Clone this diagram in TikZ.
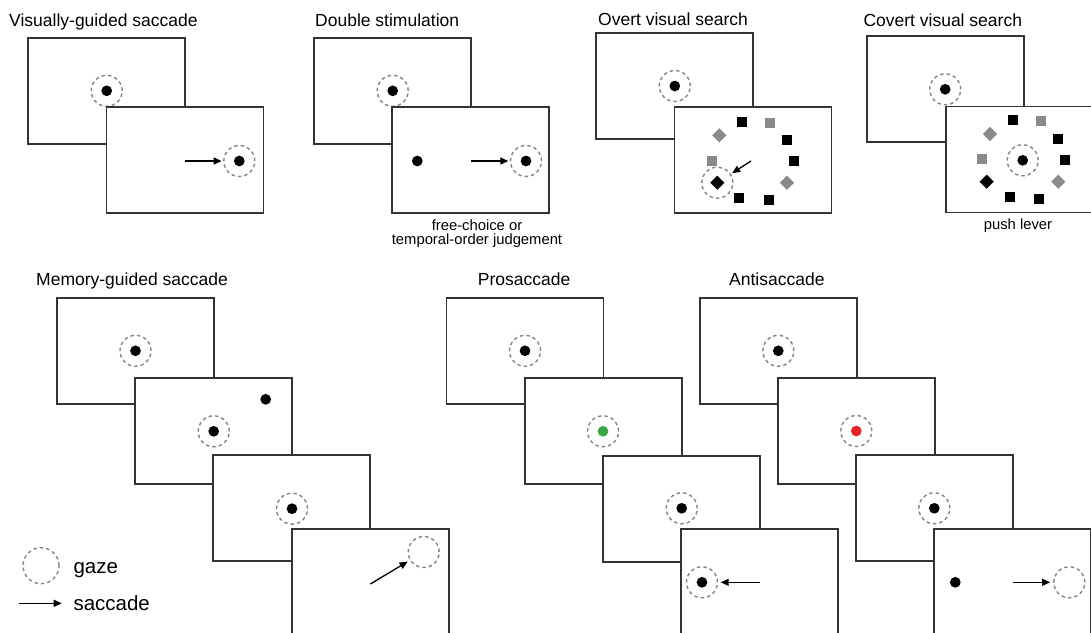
\documentclass[tikz,border=0pt]{standalone}
\usepackage{fontspec}
\setmainfont{Liberation Sans}
\usetikzlibrary{arrows.meta}
\definecolor{framec}{HTML}{333333}
\definecolor{gazec}{HTML}{858585}
\definecolor{itemgray}{HTML}{8A8A8A}
\definecolor{gogreen}{HTML}{3BA549}
\definecolor{nogored}{HTML}{E42228}
\begin{document}
\begin{tikzpicture}[x=1pt,y=-1pt,
 screen/.style={draw=framec,line width=1.7pt,fill=white,rectangle,minimum width=157pt,minimum height=106pt,inner sep=0pt},
 gaze/.style={draw=gazec,line width=1.4pt,dash pattern=on 3.5pt off 3pt,circle,minimum size=31pt,inner sep=0pt},
 biggaze/.style={gaze,minimum size=36pt},
 fixdot/.style={circle,fill=black,minimum size=10.7pt,inner sep=0pt},
 sqitem/.style={rectangle,fill=#1,minimum size=10pt,inner sep=0pt},
 diaitem/.style={rectangle,fill=#1,minimum size=10pt,inner sep=0pt,rotate=45},
 sacc/.style={line width=1.3pt,-{Triangle[length=8pt,width=7pt]},shorten >=1.5pt},
 ttl/.style={anchor=base west,font=\fontsize{17.5}{20}\selectfont,inner sep=0pt},
 captext/.style={anchor=base,font=\fontsize{14.8}{17}\selectfont,inner sep=0pt},
 legtext/.style={anchor=base west,font=\fontsize{20.5}{24}\selectfont,inner sep=0pt}]
\useasboundingbox (0,0) rectangle (1091,632);
\fill[white] (0,0) rectangle (1091,632);
\clip (0,0) rectangle (1091,632);

% ---------- Visually-guided saccade
\node[ttl] (tv) at (9,26) {Visually-guided saccade};
\node[screen] (v1) at (106.7,90.8) {};
\node[fixdot] (v1d) at (v1.center) {};
\node[gaze] (v1g) at (v1.center) {};
\node[screen] (v2) at (185,160.3) {};
\node[fixdot] (v2d) at (239.3,161) {};
\node[gaze] (v2g) at (239.3,161) {};
\coordinate (v2s) at (185,161);
\draw[sacc] (v2s) -- (v2g);

% ---------- Double stimulation
\node[ttl] (td) at (315,26) {Double stimulation};
\node[screen] (d1) at (392.7,90.8) {};
\node[fixdot] (d1d) at (d1.center) {};
\node[gaze] (d1g) at (d1.center) {};
\node[screen] (d2) at (470.8,160.3) {};
\node[fixdot] (d2a) at (417.3,161) {};
\node[fixdot] (d2b) at (526,161) {};
\node[gaze] (d2g) at (526,161) {};
\coordinate (d2s) at (471,161);
\draw[sacc] (d2s) -- (d2g);
\node[captext] (dc1) at (477,230) {free-choice or};
\node[captext] (dc2) at (477,244.5) {temporal-order judgement};

% ---------- Overt visual search
\node[ttl] (to) at (598,25.5) {Overt visual search};
\node[screen] (o1) at (674.8,86) {};
\node[fixdot] (o1d) at (o1.center) {};
\node[gaze] (o1g) at (o1.center) {};
\node[screen] (o2) at (753,160.3) {};
\node[sqitem=black] (oi1) at (742.3,121.7) {};
\node[sqitem=itemgray] (oi2) at (770.3,122.7) {};
\node[sqitem=black] (oi3) at (787.3,140.3) {};
\node[sqitem=black] (oi4) at (794.3,161.3) {};
\node[diaitem=itemgray] (oi5) at (787,182.7) {};
\node[sqitem=black] (oi6) at (768.7,200) {};
\node[sqitem=black] (oi7) at (738.7,197.7) {};
\node[diaitem=black] (oi8) at (717.3,182.7) {};
\node[sqitem=itemgray] (oi9) at (711.7,160.7) {};
\node[diaitem=itemgray] (oi10) at (719.3,135.3) {};
\node[gaze] (o2g) at (717.3,182.7) {};
\coordinate (o2s) at (751,161);
\draw[sacc] (o2s) -- (o2g);

% ---------- Covert visual search
\node[ttl] (tc) at (863.3,26) {Covert visual search};
\node[screen] (c1) at (945.2,89.3) {};
\node[fixdot] (c1d) at (c1.center) {};
\node[gaze] (c1g) at (c1.center) {};
\node[screen] (c2) at (1024.2,159.5) {};
\node[fixdot] (c2d) at (1022.7,160.3) {};
\node[gaze] (c2g) at (1022.7,160.3) {};
\node[sqitem=black] (ci1) at (1013,120) {};
\node[sqitem=itemgray] (ci2) at (1041,121.3) {};
\node[sqitem=black] (ci3) at (1057.7,138.7) {};
\node[sqitem=black] (ci4) at (1065.3,160.3) {};
\node[diaitem=itemgray] (ci5) at (1058.3,181.7) {};
\node[sqitem=black] (ci6) at (1039,199) {};
\node[sqitem=black] (ci7) at (1010,196.7) {};
\node[diaitem=black] (ci8) at (986.7,181.7) {};
\node[sqitem=itemgray] (ci9) at (982,159.3) {};
\node[diaitem=itemgray] (ci10) at (990,134) {};
\node[captext] (cc) at (1018,229) {push lever};

% ---------- Memory-guided saccade
\node[ttl] (tm) at (36,285.7) {Memory-guided saccade};
\node[screen] (m1) at (135.5,350.8) {};
\node[fixdot] (m1d) at (m1.center) {};
\node[gaze] (m1g) at (m1.center) {};
\node[screen] (m2) at (213.5,430.8) {};
\node[fixdot] (m2d) at (213.7,431.3) {};
\node[gaze] (m2g) at (213.7,431.3) {};
\node[fixdot] (m2t) at (265.7,399.3) {};
\node[screen] (m3) at (291.7,508.2) {};
\node[fixdot] (m3d) at (292,508.7) {};
\node[gaze] (m3g) at (292,508.7) {};
\node[screen] (m4) at (370.2,582.3) {};
\node[gaze] (m4g) at (423.7,552) {};
\coordinate (m4s) at (370.3,584);
\draw[sacc,shorten >=2.5pt] (m4s) -- (m4g);

% ---------- Prosaccade
\node[ttl] (tp) at (477.7,285.7) {Prosaccade};
\node[screen] (p1) at (525,350.8) {};
\node[fixdot] (p1d) at (p1.center) {};
\node[gaze] (p1g) at (p1.center) {};
\node[screen] (p2) at (603.3,430.8) {};
\node[fixdot,fill=gogreen] (p2d) at (603,431.3) {};
\node[gaze] (p2g) at (603,431.3) {};
\node[screen] (p3) at (681.3,508.7) {};
\node[fixdot] (p3d) at (681.7,508.3) {};
\node[gaze] (p3g) at (681.7,508.3) {};
\node[screen] (p4) at (759.8,582.3) {};
\node[fixdot] (p4d) at (702,582.3) {};
\node[gaze] (p4g) at (702,582.3) {};
\coordinate (p4s) at (759.7,582.3);
\draw[sacc,shorten >=2.5pt] (p4s) -- (p4g);

% ---------- Antisaccade
\node[ttl] (ta) at (729,285.7) {Antisaccade};
\node[screen] (a1) at (778.3,350.8) {};
\node[fixdot] (a1d) at (a1.center) {};
\node[gaze] (a1g) at (a1.center) {};
\node[screen] (a2) at (856.3,430.8) {};
\node[fixdot,fill=nogored] (a2d) at (856.3,431) {};
\node[gaze] (a2g) at (856.3,431) {};
\node[screen] (a3) at (934.3,508.3) {};
\node[fixdot] (a3d) at (934.3,508.3) {};
\node[gaze] (a3g) at (934.3,508.3) {};
\node[screen] (a4) at (1012.5,582.3) {};
\node[fixdot] (a4d) at (955.3,582.3) {};
\node[gaze] (a4g) at (1069.3,582.3) {};
\coordinate (a4s) at (1012.7,582.3);
\draw[sacc,shorten >=3pt] (a4s) -- (a4g);

% ---------- Legend
\node[biggaze] (lg) at (41,565.7) {};
\node[legtext] (lgt) at (73.3,573.3) {gaze};
\coordinate (las) at (19.3,603.3);
\coordinate (lae) at (61.7,603.3);
\draw[sacc,shorten >=0pt] (las) -- (lae);
\node[legtext] (lat) at (73.3,610) {saccade};
\end{tikzpicture}
\end{document}
